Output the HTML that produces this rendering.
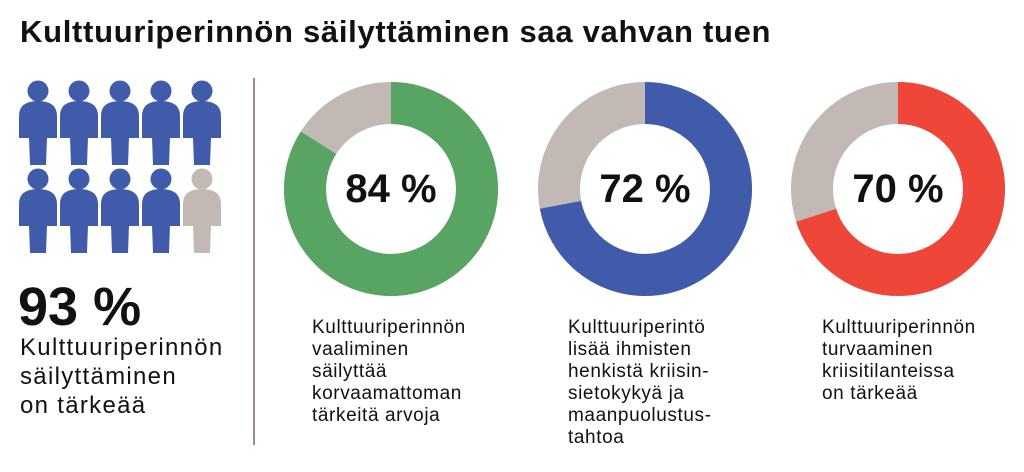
<!DOCTYPE html>
<html><head><meta charset="utf-8"><style>
body{margin:0;width:1024px;height:472px;background:#fff;overflow:hidden;font-family:"Liberation Sans",sans-serif;color:#111}
.t{position:absolute;white-space:nowrap}
</style></head><body>
<div class="t" style="left:20px;top:14px;font-size:31px;font-weight:bold;letter-spacing:0.7px">Kulttuuriperinnön säilyttäminen saa vahvan tuen</div>
<svg width="1024" height="472" style="position:absolute;left:0;top:0">
<defs>
<g id="p"><circle cx="0" cy="0" r="10.5"/><path d="M-19,47 L-19,25 Q-19,10 0,10 Q19,10 19,25 L19,47 Z"/><path d="M-9,46 L9,46 L8,74 L-8,74 Z"/></g>
</defs>
<g fill="#3f5ba9">
<use href="#p" x="38" y="91"/><use href="#p" x="79" y="91"/><use href="#p" x="120" y="91"/><use href="#p" x="161" y="91"/><use href="#p" x="202" y="91"/>
<use href="#p" x="38" y="179"/><use href="#p" x="79" y="179"/><use href="#p" x="120" y="179"/><use href="#p" x="161" y="179"/>
</g>
<use href="#p" x="202" y="179" fill="#c2b9b5"/>
<line x1="254" y1="78" x2="254" y2="445" stroke="#9a8d88" stroke-width="2"/>
<g fill="none" stroke-width="42">
<circle cx="391" cy="189" r="86" stroke="#c2b9b5"/>
<circle cx="391" cy="189" r="86" stroke="#57a463" stroke-dasharray="453.9 1000" transform="rotate(-90 391 189)"/>
<circle cx="645" cy="189" r="86" stroke="#c2b9b5"/>
<circle cx="645" cy="189" r="86" stroke="#3f5ba9" stroke-dasharray="389.1 1000" transform="rotate(-90 645 189)"/>
<circle cx="898" cy="189" r="86" stroke="#c2b9b5"/>
<circle cx="898" cy="189" r="86" stroke="#ee473a" stroke-dasharray="378.3 1000" transform="rotate(-90 898 189)"/>
</g>
<g font-family="Liberation Sans" font-weight="bold" font-size="40" text-anchor="middle" fill="#111">
<text x="391" y="202">84 %</text><text x="645" y="202">72 %</text><text x="898" y="202">70 %</text>
</g>
</svg>
<div class="t" style="left:18px;top:276px;font-size:54px;font-weight:bold;">93 %</div>
<div class="t" style="left:20px;top:333px;font-size:24px;line-height:29px;letter-spacing:1.3px">Kulttuuriperinnön<br>säilyttäminen<br>on tärkeää</div>
<div class="t" style="left:312px;top:317px;font-size:19px;line-height:22px;letter-spacing:0.6px">Kulttuuriperinnön<br>vaaliminen<br>säilyttää<br>korvaamattoman<br>tärkeitä arvoja</div>
<div class="t" style="left:568px;top:317px;font-size:19px;line-height:22px;letter-spacing:0.6px">Kulttuuriperintö<br>lisää ihmisten<br>henkistä kriisin-<br>sietokykyä ja<br>maanpuolustus-<br>tahtoa</div>
<div class="t" style="left:822px;top:317px;font-size:19px;line-height:22px;letter-spacing:0.6px">Kulttuuriperinnön<br>turvaaminen<br>kriisitilanteissa<br>on tärkeää</div>
</body></html>
